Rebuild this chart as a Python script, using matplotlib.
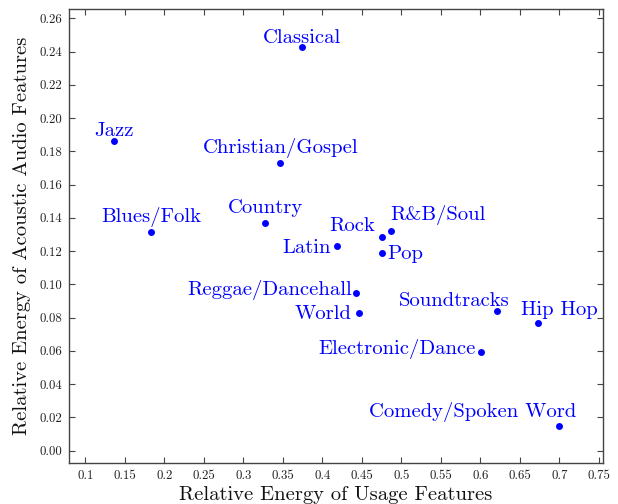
import matplotlib
matplotlib.use("Agg")
import matplotlib.pyplot as plt

# Genre positions: usage-feature energy (x) vs acoustic-audio-feature energy (y)
genres = ["Classical", "Jazz", "Christian/Gospel", "Country", "Blues/Folk",
          "Rock", "R&B/Soul", "Latin", "Pop", "Reggae/Dancehall", "World",
          "Soundtracks", "Hip Hop", "Electronic/Dance", "Comedy/Spoken Word"]
usage_energy = [0.374, 0.136, 0.347, 0.328, 0.183,
                0.476, 0.487, 0.418, 0.476, 0.442, 0.447,
                0.621, 0.673, 0.601, 0.699]
acoustic_energy = [0.2426, 0.1862, 0.1728, 0.1371, 0.1313,
                   0.1285, 0.1323, 0.1231, 0.1187, 0.0950, 0.0828,
                   0.0840, 0.0770, 0.0592, 0.0150]

x_ticks = [0.1, 0.15, 0.2, 0.25, 0.3, 0.35, 0.4, 0.45, 0.5, 0.55, 0.6, 0.65, 0.7, 0.75]
x_tick_labels = ["0.1", "0.15", "0.2", "0.25", "0.3", "0.35", "0.4", "0.45",
                 "0.5", "0.55", "0.6", "0.65", "0.7", "0.75"]
y_ticks = [0.00, 0.02, 0.04, 0.06, 0.08, 0.10, 0.12, 0.14, 0.16, 0.18, 0.20, 0.22, 0.24, 0.26]
y_tick_labels = ["%.2f" % v for v in y_ticks]

# Label placement: (dx, dy) in pixels from the marker, horizontal alignment
label_style = {
    "Classical": (0, 4.6, "center"),
    "Jazz": (0, 5.3, "center"),
    "Christian/Gospel": (0, 10, "center"),
    "Country": (0, 9.4, "center"),
    "Blues/Folk": (0, 10.6, "center"),
    "Rock": (-7.7, 5.7, "right"),
    "R&B/Soul": (-1, 10.5, "left"),
    "Latin": (-5.7, -6.7, "right"),
    "Pop": (4.5, -5.3, "left"),
    "Reggae/Dancehall": (-4, -2.7, "right"),
    "World": (-8.3, -6.3, "right"),
    "Soundtracks": (12.6, 5, "right"),
    "Hip Hop": (-17, 7.7, "left"),
    "Electronic/Dance": (-5.3, -1.7, "right"),
    "Comedy/Spoken Word": (17.7, 8.7, "right"),
}

FONT = "cmr10"
BLUE = "#0000ff"

fig = plt.figure(figsize=(6.18, 5.04), dpi=100)
ax = fig.add_axes([69 / 618, 1 - 463.3 / 504, 533.5 / 618, 454 / 504])

ax.scatter(usage_energy, acoustic_energy, s=25, color=BLUE, zorder=3, linewidths=0)

for name, xv, yv in zip(genres, usage_energy, acoustic_energy):
    dx, dy, ha = label_style[name]
    ax.annotate(name, (xv, yv), xytext=(dx, dy), textcoords="offset pixels",
                ha=ha, va="baseline", color=BLUE, fontsize=14.9, family=FONT)

ax.set_xlim(0.0794, 0.7545)
ax.set_ylim(-0.0076, 0.2654)

ax.set_xticks(x_ticks)
ax.set_xticklabels(x_tick_labels, family=FONT, fontsize=9.3)
ax.set_yticks(y_ticks)
ax.set_yticklabels(y_tick_labels, family=FONT, fontsize=9.3)

ax.tick_params(direction="in", length=4, width=0.8, color="#444444",
               top=True, right=True, labelcolor="#222222")
ax.tick_params(axis="x", pad=5)
ax.tick_params(axis="y", pad=5)

for sp in ax.spines.values():
    sp.set_color("#444444")
    sp.set_linewidth(1.0)

ax.set_xlabel("Relative Energy of Usage Features", family=FONT, fontsize=14.8, color="#111111")
ax.set_ylabel("Relative Energy of Acoustic Audio Features", family=FONT, fontsize=14.8, color="#111111")
ax.xaxis.set_label_coords(0.5, -(500 - 463.3) / 454)
ax.xaxis.label.set_va("baseline")
ax.yaxis.set_label_coords((27.0 - 69) / 533.5, 0.5)
ax.yaxis.label.set_va("baseline")

fig.savefig("out.png", dpi=100)
